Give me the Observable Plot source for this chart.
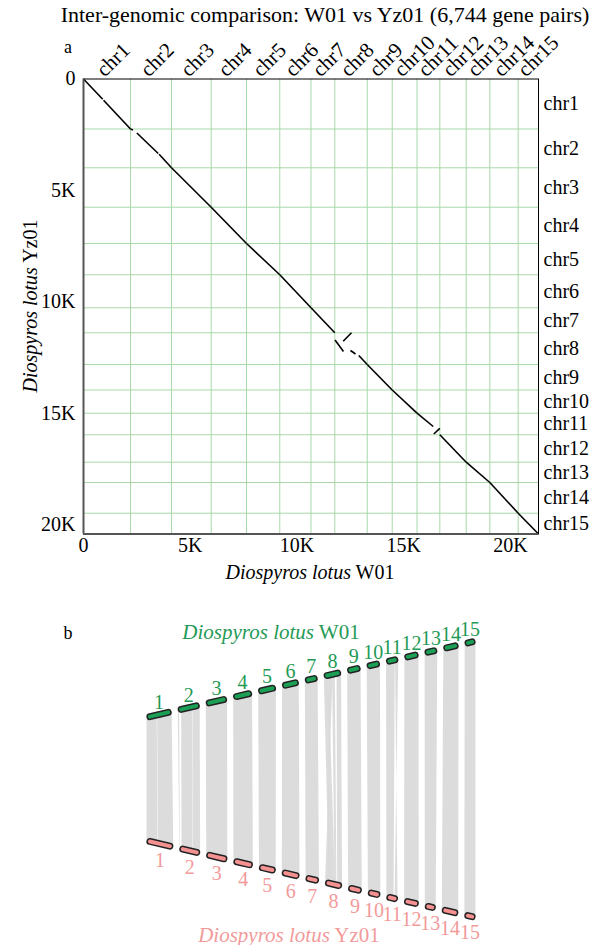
<!DOCTYPE html>
<html><head><meta charset="utf-8">
<script src="https://cdn.jsdelivr.net/npm/d3@7"></script>
<script src="https://cdn.jsdelivr.net/npm/@observablehq/plot@0.6"></script>
<style>
body{margin:0;background:#fff;font-family:"Liberation Serif","Times New Roman",serif;color:#000;}
#fig{position:relative;width:601px;height:945px;overflow:hidden;}
.abs{position:absolute;white-space:nowrap;line-height:1;}
.c{transform:translate(-50%,-50%);}
</style></head><body>
<div id="fig">
  <div id="plotA" class="abs" style="left:0;top:0"></div>
  <div id="plotB" class="abs" style="left:0;top:590px"></div>
  <div class="abs c" style="left:325px;top:15px;font-size:22px">Inter-genomic comparison: W01 vs Yz01 (6,744 gene pairs)</div>
  <div class="abs c" style="left:68px;top:47px;font-size:18px">a</div>
  <div class="abs c" style="left:68px;top:633px;font-size:18px">b</div>
  <div class="abs c" style="left:310px;top:572px;font-size:20px"><i>Diospyros lotus</i> W01</div>
  <div class="abs" style="left:30px;top:306px;font-size:20px;transform:translate(-50%,-50%) rotate(-90deg)"><i>Diospyros lotus</i> Yz01</div>
  <div class="abs c" style="left:271px;top:632px;font-size:21px;color:#1f9a55"><i>Diospyros lotus</i> W01</div>
  <div class="abs c" style="left:289px;top:935px;font-size:21px;color:#f29a9a"><i>Diospyros lotus</i> Yz01</div>
</div>
<script>
const chromosomes = ["chr1","chr2","chr3","chr4","chr5","chr6","chr7","chr8","chr9","chr10","chr11","chr12","chr13","chr14","chr15"];
const chromosomeNumbers = ["1","2","3","4","5","6","7","8","9","10","11","12","13","14","15"];
const w01Sizes  = [2201, 1921, 1859, 1654, 1559, 1462, 1114, 1518, 1171, 1162, 1068, 1236, 1105, 1330, 951];
const yz01Sizes = [2242, 1740, 1767, 1628, 1403, 1480, 1121, 1422, 1143, 1041, 968, 1229, 910, 1377, 933];
const xTicks = [0, 5000, 10000, 15000, 20000];
const xTickLabels = ["0", "5K", "10K", "15K", "20K"];
const yTicks = [0, 5000, 10000, 15000, 20000];
const yTickLabels = ["0", "5K", "10K", "15K", "20K"];
// synteny blocks: [chromosome, W01 start, W01 end, Yz01 start, Yz01 end] (gene index within chromosome)
const syntenyBlocks = [
  [1, 0, 900, 0, 910], [1, 940, 2201, 950, 2242],
  [2, 0, 120, 0, 40], [2, 300, 1300, 180, 1100], [2, 1340, 1921, 1130, 1740],
  [3, 0, 1859, 0, 1767],
  [4, 0, 1654, 0, 1628],
  [5, 0, 1559, 0, 1403],
  [6, 0, 1462, 0, 1480],
  [7, 0, 1114, 0, 1121],
  [8, 10, 407, 323, 839], [8, 393, 782, 377, 0], [8, 735, 970, 794, 951], [8, 1124, 1518, 1018, 1422],
  [9, 0, 1171, 0, 1143],
  [10, 0, 1162, 0, 1041],
  [11, 0, 759, 0, 596], [11, 787, 1068, 933, 682],
  [12, 0, 1236, 0, 1229],
  [13, 0, 1105, 0, 910],
  [14, 0, 1330, 0, 1377],
  [15, 0, 951, 0, 933]
];

const cumW = [0, ...d3.cumsum(w01Sizes)];
const cumY = [0, ...d3.cumsum(yz01Sizes)];
const totalW = cumW[cumW.length - 1];
const totalY = cumY[cumY.length - 1];
const xMid = w01Sizes.map((s, i) => cumW[i] + s / 2);
const yMid = yz01Sizes.map((s, i) => cumY[i] + s / 2);

const dots = syntenyBlocks.map(([c, ws, we, ys, ye]) => ({
  x1: cumW[c - 1] + ws, x2: cumW[c - 1] + we,
  y1: cumY[c - 1] + ys, y2: cumY[c - 1] + ye
}));

const serif = '"Liberation Serif", "Times New Roman", serif';
const grid = "#a9d8a9";

const plotA = Plot.plot({
  width: 601, height: 590,
  marginTop: 78.5, marginLeft: 83, marginRight: 63, marginBottom: 56.5,
  x: {domain: [0, totalW]},
  y: {domain: [0, totalY], reverse: true},
  style: {fontFamily: serif, background: "transparent", overflow: "visible", color: "black"},
  marks: [
    Plot.ruleX(cumW.slice(1, -1), {stroke: grid, strokeWidth: 1}),
    Plot.ruleY(cumY.slice(1, -1), {stroke: grid, strokeWidth: 1}),
    Plot.link(dots, {x1: "x1", y1: "y1", x2: "x2", y2: "y2", stroke: "black", strokeWidth: 1.6}),
    Plot.frame({stroke: "black", strokeWidth: 1}),
    Plot.ruleX([0], {stroke: "#555", strokeWidth: 2}),
    Plot.ruleY([totalY], {stroke: "#555", strokeWidth: 2}),
    Plot.axisX(xTicks, {anchor: "bottom", tickSize: 0, tickPadding: 4, fontSize: 20, label: null,
      tickFormat: d => xTickLabels[xTicks.indexOf(d)]}),
    Plot.axisY(yTicks, {anchor: "left", tickSize: 0, tickPadding: 8, fontSize: 20, label: null,
      tickFormat: d => yTickLabels[yTicks.indexOf(d)]}),
    Plot.axisX(xMid, {anchor: "top", tickSize: 0, tickPadding: 6, tickRotate: -45, fontSize: 21, label: null,
      dx: -7, tickFormat: d => chromosomes[xMid.indexOf(d)]}),
    Plot.axisY(yMid, {anchor: "right", tickSize: 0, tickPadding: 5, fontSize: 20, label: null,
      tickFormat: d => chromosomes[yMid.indexOf(d)]})
  ]
});
document.getElementById("plotA").appendChild(plotA);

// panel b layout
const GAP = 6.11, L = 146, R = 475, OFF = 590;
const kW = (R - L - 14 * GAP) / totalW;
const kY = (R - L - 14 * GAP) / totalY;
const topX = (c, g) => L + kW * (cumW[c] + g) + GAP * c;
const botX = (c, g) => L + kY * (cumY[c] + g) + GAP * c;
const topY = x => 714 - 0.232 * (x - 158.7) - OFF;
const botY = x => 843.3 + 0.2335 * (x - 159.5) - OFF;
const CAP = 3.4;

const ribbons = [];
syntenyBlocks.forEach(([c, ws, we, ys, ye], id) => {
  const a = topX(c - 1, ws), b = topX(c - 1, we), cc = botX(c - 1, ye), d = botX(c - 1, ys);
  ribbons.push({id, x: a, y: topY(a)}, {id, x: b, y: topY(b)}, {id, x: cc, y: botY(cc)}, {id, x: d, y: botY(d)});
});
const topBars = w01Sizes.map((s, i) => {
  const x1 = topX(i, 0) + CAP, x2 = topX(i, s) - CAP;
  return {x1, x2, y1: topY(x1), y2: topY(x2), xm: (x1 + x2) / 2, ym: topY((x1 + x2) / 2), label: chromosomeNumbers[i]};
});
const botBars = yz01Sizes.map((s, i) => {
  const x1 = botX(i, 0) + CAP, x2 = botX(i, s) - CAP;
  return {x1, x2, y1: botY(x1), y2: botY(x2), xm: (x1 + x2) / 2, ym: botY((x1 + x2) / 2), label: chromosomeNumbers[i]};
});

const green = "#1a9f55", greenText = "#1f9a55", pink = "#f59191", pinkText = "#f29a9a";
const plotB = Plot.plot({
  width: 601, height: 355, margin: 0,
  x: {domain: [0, 601], range: [0, 601], axis: null},
  y: {domain: [0, 355], range: [0, 355], axis: null},
  style: {fontFamily: serif, background: "transparent", overflow: "visible"},
  marks: [
    Plot.line(ribbons, {x: "x", y: "y", z: "id", curve: "linear-closed", fill: "#d8d8d8", fillOpacity: 0.9, stroke: "none"}),
    Plot.link(topBars, {x1: "x1", y1: "y1", x2: "x2", y2: "y2", stroke: "#222", strokeWidth: 7, strokeLinecap: "round"}),
    Plot.link(topBars, {x1: "x1", y1: "y1", x2: "x2", y2: "y2", stroke: green, strokeWidth: 4, strokeLinecap: "round"}),
    Plot.link(botBars, {x1: "x1", y1: "y1", x2: "x2", y2: "y2", stroke: "#222", strokeWidth: 7, strokeLinecap: "round"}),
    Plot.link(botBars, {x1: "x1", y1: "y1", x2: "x2", y2: "y2", stroke: pink, strokeWidth: 4, strokeLinecap: "round"}),
    Plot.text(topBars, {x: "xm", y: "ym", text: "label", fill: greenText, fontSize: 20, lineAnchor: "bottom", dy: -6}),
    Plot.text(botBars, {x: "xm", y: "ym", text: "label", fill: pinkText, fontSize: 20, lineAnchor: "top", dy: 9})
  ]
});
document.getElementById("plotB").appendChild(plotB);
</script>
</body></html>
